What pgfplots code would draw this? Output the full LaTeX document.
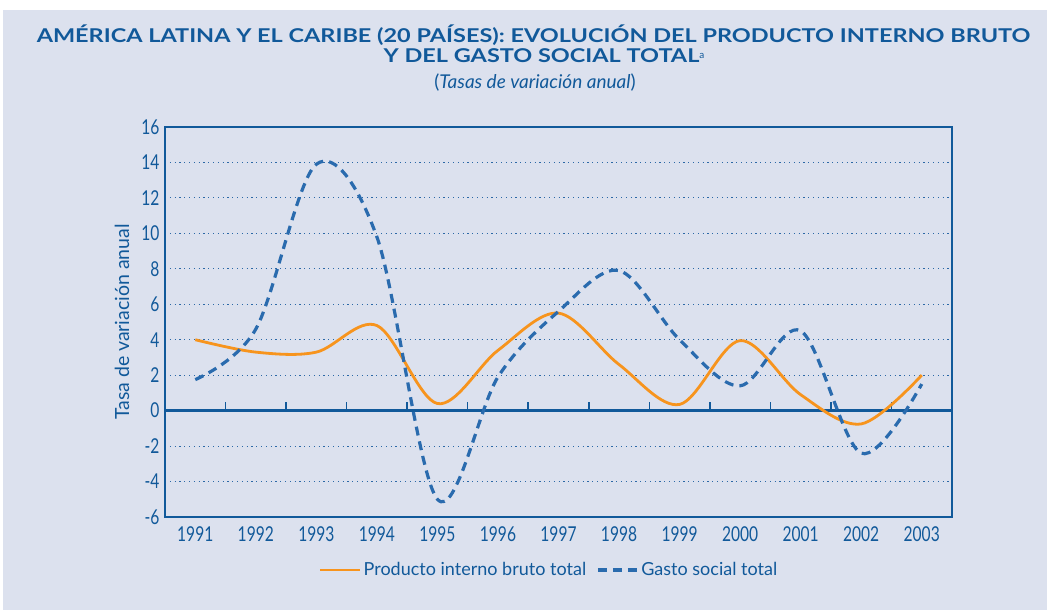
\documentclass[border=0pt]{standalone}
\usepackage{fontspec}
\setmainfont{Lato}
\newfontfamily\titlefont{Lato}[FakeStretch=1.235]
\newfontfamily\tickfont{Lato}[FakeStretch=0.76]
\usepackage{pgfplots}
\pgfplotsset{compat=1.18}
\definecolor{bg}{HTML}{DCE1EE}
\definecolor{cblue}{HTML}{11599A}
\definecolor{lblue}{HTML}{2C68A6}
\definecolor{gblue}{HTML}{2A6BAE}
\definecolor{corange}{HTML}{F7941D}
\begin{document}
\begin{tikzpicture}[x=1pt,y=1pt]
\useasboundingbox (0,0) rectangle (1050,610);
\fill[white] (0,0) rectangle (1050,610);
\fill[bg] (3,0) rectangle (1047,600);
\node[anchor=base, font=\titlefont\bfseries\fontsize{19}{22}\selectfont, text=cblue, inner sep=0] at (533.5,567) {AMÉRICA LATINA Y EL CARIBE (20 PAÍSES): EVOLUCIÓN DEL PRODUCTO INTERNO BRUTO};
\node[anchor=base, font=\titlefont\bfseries\fontsize{19}{22}\selectfont, text=cblue, inner sep=0] at (544,547) {Y DEL GASTO SOCIAL TOTAL{\normalfont\fontsize{10}{10}\selectfont\raisebox{4pt}{a}}};
\node[anchor=base, font=\fontsize{19}{22}\selectfont, text=cblue, inner sep=0] at (535,521) {(\textit{Tasas de variación anual})};
\begin{axis}[
  at={(165pt,93pt)}, anchor=south west,
  scale only axis, width=787pt, height=390pt,
  xmin=1990.5, xmax=2003.5, ymin=-6, ymax=16,
  axis line style={cblue, line width=2.6pt},
  xtick={1991,1992,1993,1994,1995,1996,1997,1998,1999,2000,2001,2002,2003},
  xticklabels={1991,1992,1993,1994,1995,1996,1997,1998,1999,2000,2001,2002,2003},
  ytick={-6,-4,-2,0,2,4,6,8,10,12,14,16},
  yticklabels={-6,-4,-2,0,2,4,6,8,10,12,14,16},
  major tick length=0pt,
  ymajorgrids, grid style={dash pattern=on 1.2pt off 3.6pt, lblue, line width=1pt},
  tick label style={font=\tickfont\fontsize{20.5}{24}\selectfont, text=cblue},
  x tick label style={yshift=-6pt},
  y tick label style={xshift=-2pt},
  ylabel={Tasa de variación anual},
  ylabel style={font=\fontsize{19.5}{22}\selectfont, text=cblue, at={(axis description cs:-0.0546,0.5)}, anchor=center},
  legend columns=2,
  legend style={at={(axis description cs:0.488,-0.136)}, anchor=center, draw=none, fill=none,
    font=\fontsize{18}{22}\selectfont, text=cblue,
    /tikz/every even column/.append style={column sep=8pt}},
  legend image code/.code={\draw[#1] (0pt,0pt) -- (40pt,0pt);},
  clip=false,
]
\draw[cblue, line width=2.6pt] (axis cs:1990.5,0) -- (axis cs:2003.5,0);
\pgfplotsinvokeforeach{1991,1992,1993,1994,1995,1996,1997,1998,1999,2000,2001,2002}{
  \draw[cblue, line width=1.5pt] (axis cs:#1.5,0) -- ++(0pt,9pt);
}
\addplot[corange, line width=2.8pt, smooth, tension=0.55] coordinates {
(1991,4.0) (1992,3.3) (1993,3.3) (1994,4.8) (1995,0.4) (1996,3.4) (1997,5.5)
(1998,2.6) (1999,0.35) (2000,3.95) (2001,0.9) (2002,-0.75) (2003,2.0)};
\addlegendentry{Producto interno bruto total}
\addplot[gblue, line width=3.2pt, dash pattern=on 9pt off 6pt, smooth, tension=0.55] coordinates {
(1991,1.75) (1992,4.6) (1993,13.9) (1994,9.8) (1995,-5.0) (1996,1.9) (1997,5.6)
(1998,7.9) (1999,4.0) (2000,1.4) (2001,4.5) (2002,-2.4) (2003,1.5)};
\addlegendentry{Gasto social total}
\end{axis}
\end{tikzpicture}
\end{document}
